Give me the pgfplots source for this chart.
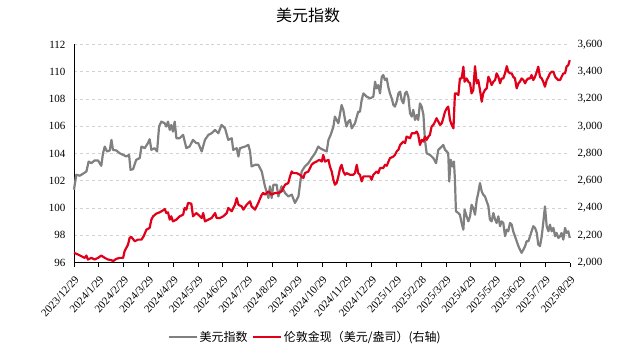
\documentclass[border=0pt]{standalone}
\usepackage{pgfplots}
\pgfplotsset{compat=1.18}
\usepackage{fontspec}
\setmainfont{Liberation Serif}
\newfontfamily\cjk{Noto Sans CJK SC}
\definecolor{dxy}{RGB}{128,128,128}
\definecolor{gold}{RGB}{224,0,26}
\definecolor{gridc}{RGB}{210,210,210}
\begin{document}
\begin{tikzpicture}[x=1bp,y=1bp]
\path[use as bounding box] (0,0) rectangle (617,355);
\begin{axis}[
  at={(74bp,92.5bp)}, anchor=south west,
  scale only axis, width=496bp, height=218bp,
  xmin=0, xmax=20, ymin=96, ymax=112,
  ytick={96,98,...,112},
  xtick={0,...,20},
  xticklabels={2023/12/29,2024/1/29,2024/2/29,2024/3/29,2024/4/29,2024/5/29,2024/6/29,2024/7/29,2024/8/29,2024/9/29,2024/10/29,2024/11/29,2024/12/29,2025/1/29,2025/2/28,2025/3/29,2025/4/29,2025/5/29,2025/6/29,2025/7/29,2025/8/29},
  axis x line*=bottom, axis y line*=left,
  axis line style={line width=1bp, black, -},
  tick align=outside,
  major tick length=4bp,
  xtick style={black, line width=0.8bp},
  ytick style={draw=none},
  ymajorgrids, grid style={gridc, dashed, line width=0.6bp},
  /pgf/number format/assume math mode=true,
  tick label style={font=\fontsize{11bp}{13bp}\selectfont},
  xticklabel shift=7bp,
  xticklabel style={rotate=48, anchor=north east, inner sep=1bp},
  yticklabel style={xshift=-1bp},
  title={\cjk\fontsize{16bp}{18bp}\selectfont 美元指数},
  title style={at={(0.472,1)}, anchor=center, yshift=23bp},
  clip=false,
]
\addplot[dxy, line width=2.2bp, line join=round] coordinates {
(0,101.34)(0.09,102.44)(0.23,102.37)(0.36,102.51)(0.50,102.68)(0.59,103.41)(0.70,103.29)(0.83,103.49)(0.97,103.49)(1.10,103.10)(1.17,104.02)(1.24,104.51)(1.33,104.15)(1.44,104.22)(1.51,105.0)(1.57,104.27)(1.71,104.22)(1.84,104.02)(1.98,103.90)(2.11,103.78)(2.22,103.90)(2.28,102.80)(2.38,102.85)(2.51,103.54)(2.65,103.66)(2.72,104.51)(2.85,104.39)(2.98,104.76)(3.05,105.05)(3.12,104.27)(3.25,104.39)(3.35,104.15)(3.43,105.98)(3.52,106.34)(3.66,106.22)(3.72,105.98)(3.79,106.34)(3.86,105.73)(3.92,106.10)(3.99,105.61)(4.06,106.34)(4.13,105.12)(4.26,105.12)(4.40,105.37)(4.53,104.39)(4.66,104.51)(4.80,105.0)(4.93,104.76)(5.01,104.76)(5.15,104.15)(5.28,105.0)(5.42,105.37)(5.55,105.49)(5.69,105.73)(5.82,105.49)(5.95,106.10)(6.09,105.85)(6.22,105.0)(6.36,105.12)(6.42,104.27)(6.56,104.39)(6.63,103.78)(6.69,104.39)(6.90,104.51)(7.03,104.63)(7.10,104.15)(7.16,103.05)(7.30,103.17)(7.43,103.17)(7.57,102.68)(7.70,101.59)(7.84,100.73)(7.90,101.59)(7.97,100.73)(8.04,101.71)(8.17,101.71)(8.24,100.85)(8.37,101.59)(8.51,101.10)(8.64,100.85)(8.78,100.98)(8.91,100.37)(9.05,100.85)(9.18,102.68)(9.31,103.05)(9.45,103.29)(9.58,103.66)(9.72,104.02)(9.85,104.51)(9.92,104.39)(10.05,104.27)(10.19,104.15)(10.26,105.0)(10.35,105.37)(10.46,105.98)(10.52,106.71)(10.59,106.46)(10.66,106.22)(10.79,107.56)(10.86,107.20)(10.93,106.46)(10.99,105.98)(11.06,106.34)(11.13,106.46)(11.20,105.85)(11.33,106.22)(11.46,107.07)(11.53,107.07)(11.60,107.93)(11.67,108.41)(11.80,108.17)(11.94,108.05)(12.07,108.17)(12.14,109.27)(12.20,108.78)(12.27,109.02)(12.34,108.41)(12.41,109.63)(12.47,109.76)(12.54,109.39)(12.61,109.51)(12.67,108.90)(12.74,108.41)(12.81,108.05)(12.88,107.56)(12.94,107.44)(13.01,107.80)(13.08,108.41)(13.15,108.54)(13.21,107.93)(13.28,107.68)(13.35,108.41)(13.41,108.54)(13.48,108.17)(13.55,106.95)(13.62,106.71)(13.68,107.20)(13.75,106.46)(13.82,106.83)(13.88,106.46)(13.95,107.68)(14.02,107.44)(14.09,106.83)(14.15,105.0)(14.22,104.02)(14.35,103.90)(14.49,103.66)(14.60,103.29)(14.69,104.27)(14.76,104.39)(14.83,104.51)(14.89,104.63)(14.96,104.27)(15.03,104.15)(15.09,104.02)(15.13,101.95)(15.19,103.54)(15.27,103.05)(15.32,103.41)(15.36,102.07)(15.40,99.76)(15.50,99.63)(15.56,99.51)(15.63,98.90)(15.70,98.41)(15.75,99.88)(15.83,99.39)(15.90,99.02)(15.97,99.39)(16.03,100.24)(16.10,100.0)(16.17,99.51)(16.24,100.61)(16.30,101.10)(16.37,101.83)(16.44,101.22)(16.50,100.98)(16.57,100.85)(16.64,100.49)(16.71,100.12)(16.77,99.15)(16.84,99.02)(16.91,99.63)(16.98,99.15)(17.04,98.90)(17.11,99.39)(17.18,98.66)(17.24,99.02)(17.31,98.90)(17.38,97.93)(17.45,98.41)(17.51,98.29)(17.58,98.90)(17.65,98.78)(17.71,98.29)(17.78,97.93)(17.85,97.56)(17.92,97.20)(17.98,96.95)(18.05,96.71)(18.12,96.95)(18.19,97.20)(18.25,97.56)(18.32,97.56)(18.39,97.93)(18.45,98.29)(18.52,98.66)(18.59,98.54)(18.66,98.17)(18.72,97.32)(18.79,97.20)(18.86,97.93)(18.92,98.90)(18.99,100.12)(19.06,98.66)(19.13,98.29)(19.19,98.78)(19.26,98.29)(19.33,98.54)(19.40,97.93)(19.46,98.17)(19.53,97.80)(19.60,97.93)(19.66,98.17)(19.73,97.68)(19.80,98.54)(19.86,98.17)(19.93,98.29)(19.99,97.80)
};
\end{axis}
\begin{axis}[
  at={(74bp,92.5bp)}, anchor=south west,
  scale only axis, width=496bp, height=218bp,
  xmin=0, xmax=20, ymin=2000, ymax=3600,
  ytick={2000,2200,...,3600},
  axis x line=none, axis y line*=right,
  y axis line style={draw=none},
  ytick style={draw=none},
  /pgf/number format/.cd, 1000 sep={,}, assume math mode=true,
  /pgfplots/.cd,
  tick label style={font=\fontsize{11bp}{13bp}\selectfont},
  yticklabel style={xshift=4bp},
  legend style={at={(0.466,-0.342)}, anchor=center, draw=none, fill=none,
    font=\cjk\fontsize{12bp}{14bp}\selectfont, inner sep=0pt,
    /tikz/every even column/.append style={column sep=2bp}},
  legend columns=2,
  legend image code/.code={\draw[#1] (0bp,0bp) -- (28bp,0bp);},
  clip=false,
]
\addlegendimage{dxy, line width=2.2bp}
\addlegendentry{美元指数}
\addplot[gold, line width=2.2bp, line join=round] coordinates {
(0,2071)(0.16,2059)(0.30,2046)(0.43,2034)(0.50,2051)(0.56,2022)(0.70,2034)(0.83,2022)(0.97,2034)(1.10,2051)(1.24,2034)(1.37,2022)(1.51,2017)(1.57,2010)(1.71,2027)(1.84,2034)(1.98,2034)(2.04,2083)(2.18,2132)(2.24,2180)(2.31,2188)(2.45,2156)(2.58,2168)(2.72,2168)(2.81,2193)(2.92,2241)(3.05,2254)(3.12,2315)(3.19,2339)(3.32,2359)(3.45,2368)(3.59,2383)(3.66,2393)(3.72,2363)(3.79,2368)(3.86,2315)(3.92,2339)(3.99,2302)(4.13,2315)(4.26,2339)(4.40,2351)(4.46,2400)(4.53,2388)(4.60,2437)(4.73,2432)(4.80,2339)(4.93,2363)(5.01,2351)(5.15,2327)(5.21,2363)(5.28,2302)(5.42,2315)(5.55,2327)(5.69,2363)(5.75,2327)(5.89,2327)(6.02,2339)(6.16,2363)(6.22,2400)(6.36,2376)(6.49,2424)(6.56,2473)(6.63,2424)(6.76,2412)(6.83,2388)(6.96,2424)(7.10,2449)(7.16,2412)(7.30,2388)(7.43,2437)(7.57,2498)(7.63,2510)(7.70,2498)(7.84,2522)(7.97,2498)(8.10,2510)(8.24,2510)(8.37,2522)(8.51,2571)(8.64,2583)(8.71,2632)(8.78,2668)(8.84,2656)(8.98,2656)(9.11,2644)(9.25,2620)(9.31,2656)(9.45,2668)(9.58,2717)(9.65,2729)(9.78,2741)(9.89,2754)(9.99,2741)(10.05,2790)(10.12,2741)(10.26,2754)(10.32,2705)(10.39,2668)(10.46,2607)(10.52,2571)(10.59,2583)(10.66,2632)(10.73,2693)(10.79,2717)(10.86,2668)(10.93,2644)(10.99,2656)(11.13,2644)(11.26,2644)(11.33,2656)(11.40,2717)(11.46,2656)(11.53,2644)(11.60,2595)(11.67,2632)(11.80,2632)(11.94,2632)(12.00,2607)(12.07,2644)(12.20,2668)(12.27,2656)(12.34,2693)(12.47,2693)(12.54,2717)(12.61,2710)(12.74,2766)(12.88,2778)(12.94,2790)(13.01,2815)(13.08,2827)(13.15,2863)(13.28,2888)(13.35,2876)(13.41,2924)(13.55,2912)(13.62,2949)(13.75,2949)(13.82,2961)(13.88,2937)(13.95,2863)(14.02,2900)(14.09,2888)(14.15,2924)(14.22,2900)(14.29,2924)(14.35,2937)(14.42,2998)(14.49,3010)(14.56,3034)(14.62,3059)(14.69,3034)(14.76,3010)(14.83,3022)(14.89,3059)(14.96,3107)(15.03,3132)(15.09,3144)(15.16,3046)(15.23,3010)(15.30,2985)(15.36,3241)(15.43,3241)(15.50,3229)(15.56,3351)(15.63,3351)(15.70,3437)(15.75,3327)(15.83,3351)(15.90,3327)(15.97,3315)(16.03,3241)(16.10,3266)(16.17,3441)(16.24,3315)(16.30,3339)(16.37,3266)(16.44,3180)(16.50,3241)(16.57,3266)(16.64,3278)(16.71,3363)(16.77,3339)(16.84,3302)(16.91,3327)(16.98,3339)(17.04,3388)(17.11,3363)(17.18,3315)(17.24,3351)(17.31,3351)(17.38,3388)(17.45,3441)(17.51,3400)(17.58,3388)(17.65,3388)(17.71,3363)(17.78,3351)(17.85,3278)(17.92,3315)(17.98,3327)(18.05,3351)(18.12,3339)(18.19,3315)(18.25,3339)(18.32,3351)(18.39,3351)(18.45,3376)(18.52,3339)(18.59,3363)(18.66,3400)(18.72,3437)(18.79,3363)(18.86,3351)(18.92,3327)(18.99,3290)(19.06,3339)(19.13,3363)(19.19,3388)(19.26,3400)(19.33,3400)(19.40,3363)(19.46,3351)(19.53,3339)(19.60,3339)(19.66,3363)(19.73,3388)(19.80,3388)(19.86,3437)(19.93,3449)(19.99,3485)
};
\addlegendentry{伦敦金现（美元/盎司）(右轴)}
\end{axis}
\end{tikzpicture}
\end{document}
